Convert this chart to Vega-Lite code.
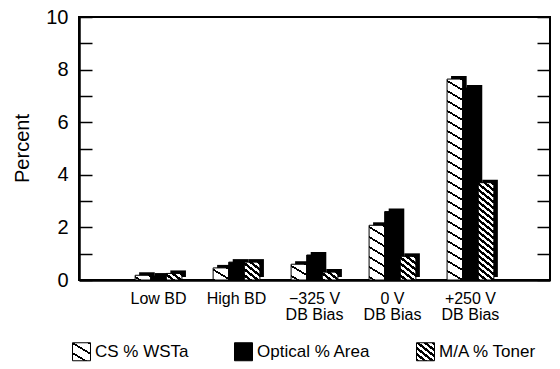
{
  "$schema": "https://vega.github.io/schema/vega-lite/v6.json",
  "width": 471,
  "height": 263,
  "autosize": "none",
  "padding": {"left": 79, "top": 17, "right": 10, "bottom": 89},
  "background": "white",
  "config": {
    "font": "Liberation Sans",
    "view": {"stroke": "black", "strokeWidth": 2},
    "axis": {"labelColor": "black", "titleColor": "black", "domainColor": "black", "tickColor": "black", "grid": false}
  },
  "params": [
    {"name": "csStops", "value": [
      {"offset": 0, "color": "#000"}, {"offset": 0.00909, "color": "#000"}, {"offset": 0.00909, "color": "#fff"}, {"offset": 0.04545, "color": "#fff"},
      {"offset": 0.04545, "color": "#000"}, {"offset": 0.05455, "color": "#000"}, {"offset": 0.05455, "color": "#fff"}, {"offset": 0.09091, "color": "#fff"},
      {"offset": 0.09091, "color": "#000"}, {"offset": 0.1, "color": "#000"}, {"offset": 0.1, "color": "#fff"}, {"offset": 0.13636, "color": "#fff"},
      {"offset": 0.13636, "color": "#000"}, {"offset": 0.14545, "color": "#000"}, {"offset": 0.14545, "color": "#fff"}, {"offset": 0.18182, "color": "#fff"},
      {"offset": 0.18182, "color": "#000"}, {"offset": 0.19091, "color": "#000"}, {"offset": 0.19091, "color": "#fff"}, {"offset": 0.22727, "color": "#fff"},
      {"offset": 0.22727, "color": "#000"}, {"offset": 0.23636, "color": "#000"}, {"offset": 0.23636, "color": "#fff"}, {"offset": 0.27273, "color": "#fff"},
      {"offset": 0.27273, "color": "#000"}, {"offset": 0.28182, "color": "#000"}, {"offset": 0.28182, "color": "#fff"}, {"offset": 0.31818, "color": "#fff"},
      {"offset": 0.31818, "color": "#000"}, {"offset": 0.32727, "color": "#000"}, {"offset": 0.32727, "color": "#fff"}, {"offset": 0.36364, "color": "#fff"},
      {"offset": 0.36364, "color": "#000"}, {"offset": 0.37273, "color": "#000"}, {"offset": 0.37273, "color": "#fff"}, {"offset": 0.40909, "color": "#fff"},
      {"offset": 0.40909, "color": "#000"}, {"offset": 0.41818, "color": "#000"}, {"offset": 0.41818, "color": "#fff"}, {"offset": 0.45455, "color": "#fff"},
      {"offset": 0.45455, "color": "#000"}, {"offset": 0.46364, "color": "#000"}, {"offset": 0.46364, "color": "#fff"}, {"offset": 0.5, "color": "#fff"},
      {"offset": 0.5, "color": "#000"}, {"offset": 0.50909, "color": "#000"}, {"offset": 0.50909, "color": "#fff"}, {"offset": 0.54545, "color": "#fff"},
      {"offset": 0.54545, "color": "#000"}, {"offset": 0.55455, "color": "#000"}, {"offset": 0.55455, "color": "#fff"}, {"offset": 0.59091, "color": "#fff"},
      {"offset": 0.59091, "color": "#000"}, {"offset": 0.6, "color": "#000"}, {"offset": 0.6, "color": "#fff"}, {"offset": 0.63636, "color": "#fff"},
      {"offset": 0.63636, "color": "#000"}, {"offset": 0.64545, "color": "#000"}, {"offset": 0.64545, "color": "#fff"}, {"offset": 0.68182, "color": "#fff"},
      {"offset": 0.68182, "color": "#000"}, {"offset": 0.69091, "color": "#000"}, {"offset": 0.69091, "color": "#fff"}, {"offset": 0.72727, "color": "#fff"},
      {"offset": 0.72727, "color": "#000"}, {"offset": 0.73636, "color": "#000"}, {"offset": 0.73636, "color": "#fff"}, {"offset": 0.77273, "color": "#fff"},
      {"offset": 0.77273, "color": "#000"}, {"offset": 0.78182, "color": "#000"}, {"offset": 0.78182, "color": "#fff"}, {"offset": 0.81818, "color": "#fff"},
      {"offset": 0.81818, "color": "#000"}, {"offset": 0.82727, "color": "#000"}, {"offset": 0.82727, "color": "#fff"}, {"offset": 0.86364, "color": "#fff"},
      {"offset": 0.86364, "color": "#000"}, {"offset": 0.87273, "color": "#000"}, {"offset": 0.87273, "color": "#fff"}, {"offset": 0.90909, "color": "#fff"},
      {"offset": 0.90909, "color": "#000"}, {"offset": 0.91818, "color": "#000"}, {"offset": 0.91818, "color": "#fff"}, {"offset": 0.95455, "color": "#fff"},
      {"offset": 0.95455, "color": "#000"}, {"offset": 0.96364, "color": "#000"}, {"offset": 0.96364, "color": "#fff"}, {"offset": 1, "color": "#fff"}
    ]},
    {"name": "maStops", "value": [
      {"offset": 0, "color": "#000"}, {"offset": 0.02632, "color": "#000"}, {"offset": 0.02632, "color": "#fff"}, {"offset": 0.05263, "color": "#fff"},
      {"offset": 0.05263, "color": "#000"}, {"offset": 0.07895, "color": "#000"}, {"offset": 0.07895, "color": "#fff"}, {"offset": 0.10526, "color": "#fff"},
      {"offset": 0.10526, "color": "#000"}, {"offset": 0.13158, "color": "#000"}, {"offset": 0.13158, "color": "#fff"}, {"offset": 0.15789, "color": "#fff"},
      {"offset": 0.15789, "color": "#000"}, {"offset": 0.18421, "color": "#000"}, {"offset": 0.18421, "color": "#fff"}, {"offset": 0.21053, "color": "#fff"},
      {"offset": 0.21053, "color": "#000"}, {"offset": 0.23684, "color": "#000"}, {"offset": 0.23684, "color": "#fff"}, {"offset": 0.26316, "color": "#fff"},
      {"offset": 0.26316, "color": "#000"}, {"offset": 0.28947, "color": "#000"}, {"offset": 0.28947, "color": "#fff"}, {"offset": 0.31579, "color": "#fff"},
      {"offset": 0.31579, "color": "#000"}, {"offset": 0.34211, "color": "#000"}, {"offset": 0.34211, "color": "#fff"}, {"offset": 0.36842, "color": "#fff"},
      {"offset": 0.36842, "color": "#000"}, {"offset": 0.39474, "color": "#000"}, {"offset": 0.39474, "color": "#fff"}, {"offset": 0.42105, "color": "#fff"},
      {"offset": 0.42105, "color": "#000"}, {"offset": 0.44737, "color": "#000"}, {"offset": 0.44737, "color": "#fff"}, {"offset": 0.47368, "color": "#fff"},
      {"offset": 0.47368, "color": "#000"}, {"offset": 0.5, "color": "#000"}, {"offset": 0.5, "color": "#fff"}, {"offset": 0.52632, "color": "#fff"},
      {"offset": 0.52632, "color": "#000"}, {"offset": 0.55263, "color": "#000"}, {"offset": 0.55263, "color": "#fff"}, {"offset": 0.57895, "color": "#fff"},
      {"offset": 0.57895, "color": "#000"}, {"offset": 0.60526, "color": "#000"}, {"offset": 0.60526, "color": "#fff"}, {"offset": 0.63158, "color": "#fff"},
      {"offset": 0.63158, "color": "#000"}, {"offset": 0.65789, "color": "#000"}, {"offset": 0.65789, "color": "#fff"}, {"offset": 0.68421, "color": "#fff"},
      {"offset": 0.68421, "color": "#000"}, {"offset": 0.71053, "color": "#000"}, {"offset": 0.71053, "color": "#fff"}, {"offset": 0.73684, "color": "#fff"},
      {"offset": 0.73684, "color": "#000"}, {"offset": 0.76316, "color": "#000"}, {"offset": 0.76316, "color": "#fff"}, {"offset": 0.78947, "color": "#fff"},
      {"offset": 0.78947, "color": "#000"}, {"offset": 0.81579, "color": "#000"}, {"offset": 0.81579, "color": "#fff"}, {"offset": 0.84211, "color": "#fff"},
      {"offset": 0.84211, "color": "#000"}, {"offset": 0.86842, "color": "#000"}, {"offset": 0.86842, "color": "#fff"}, {"offset": 0.89474, "color": "#fff"},
      {"offset": 0.89474, "color": "#000"}, {"offset": 0.92105, "color": "#000"}, {"offset": 0.92105, "color": "#fff"}, {"offset": 0.94737, "color": "#fff"},
      {"offset": 0.94737, "color": "#000"}, {"offset": 0.97368, "color": "#000"}, {"offset": 0.97368, "color": "#fff"}, {"offset": 1, "color": "#fff"}
    ]}
  ],
  "data": {
    "values": [
      {"group": "Low BD", "series": "CS % WSTa", "value": 0.18},
      {"group": "Low BD", "series": "Optical % Area", "value": 0.15},
      {"group": "Low BD", "series": "M/A % Toner", "value": 0.25},
      {"group": "High BD", "series": "CS % WSTa", "value": 0.46},
      {"group": "High BD", "series": "Optical % Area", "value": 0.68},
      {"group": "High BD", "series": "M/A % Toner", "value": 0.68},
      {"group": "−325 V DB Bias", "series": "CS % WSTa", "value": 0.6},
      {"group": "−325 V DB Bias", "series": "Optical % Area", "value": 0.95},
      {"group": "−325 V DB Bias", "series": "M/A % Toner", "value": 0.3},
      {"group": "0 V DB Bias", "series": "CS % WSTa", "value": 2.08},
      {"group": "0 V DB Bias", "series": "Optical % Area", "value": 2.6},
      {"group": "0 V DB Bias", "series": "M/A % Toner", "value": 0.9},
      {"group": "+250 V DB Bias", "series": "CS % WSTa", "value": 7.64},
      {"group": "+250 V DB Bias", "series": "Optical % Area", "value": 7.3},
      {"group": "+250 V DB Bias", "series": "M/A % Toner", "value": 3.7}
    ]
  },
  "encoding": {
    "x": {
      "field": "group",
      "type": "nominal",
      "sort": ["Low BD", "High BD", "−325 V DB Bias", "0 V DB Bias", "+250 V DB Bias"],
      "scale": {"paddingInner": 0.4, "paddingOuter": 0.72},
      "title": null,
      "axis": {
        "orient": "bottom",
        "ticks": false,
        "domainWidth": 2.5,
        "labelAngle": 0,
        "labelFontSize": 16,
        "labelPadding": 10,
        "labelLineHeight": 16,
        "labelOverlap": false,
        "labelExpr": "indexof(datum.label, ' DB Bias') > 0 ? [replace(datum.label, ' DB Bias', ''), 'DB Bias'] : datum.label"
      }
    }
  },
  "layer": [
    {
      "mark": {"type": "bar", "fill": "black", "yOffset": -3},
      "encoding": {
        "xOffset": {
          "field": "series",
          "sort": ["CS % WSTa", "Optical % Area", "M/A % Toner"],
          "scale": {"range": [4, 50.8]}
        },
        "y": {
          "field": "value",
          "type": "quantitative",
          "scale": {"domain": [0, 10], "nice": false},
          "axis": {"orient": "right", "title": null, "labels": false, "domain": false, "values": [0, 1, 2, 3, 4, 5, 6, 7, 8, 9, 10], "tickSize": -13, "tickWidth": 1.5}
        }
      }
    },
    {
      "mark": {
        "type": "bar",
        "stroke": "black",
        "strokeWidth": 1,
        "fill": {"expr": "datum.series === 'Optical % Area' ? 'black' : datum.series === 'CS % WSTa' ? {gradient: 'linear', x1: 1, y1: 0, x2: 1 - 2059.2 / (87.61 + pow(26.3 * datum.value, 2)), y2: 220 * 26.3 * datum.value / (87.61 + pow(26.3 * datum.value, 2)), stops: csStops} : {gradient: 'linear', x1: 1, y1: 0, x2: 1 - 1422.7 / (155.75 + pow(26.3 * datum.value, 2)), y2: 114 * 26.3 * datum.value / (155.75 + pow(26.3 * datum.value, 2)), stops: maStops}"}
      },
      "encoding": {
        "xOffset": {"field": "series", "sort": ["CS % WSTa", "Optical % Area", "M/A % Toner"]},
        "y": {
          "field": "value",
          "type": "quantitative",
          "scale": {"domain": [0, 10], "nice": false},
          "title": "Percent",
          "axis": {
            "orient": "left",
            "values": [0, 1, 2, 3, 4, 5, 6, 7, 8, 9, 10],
            "labelExpr": "datum.value % 2 === 0 ? datum.label : ''",
            "tickSize": -13,
            "tickWidth": 1.5,
            "domainWidth": 2.5,
            "labelFontSize": 20,
            "labelPadding": 24,
            "titleFontSize": 20,
            "titleFontWeight": "normal",
            "titleX": -57,
            "titleY": 131,
            "titleBaseline": "middle",
            "titleAngle": -90
          }
        }
      }
    },
    {
      "mark": {"type": "bar", "strokeWidth": 0},
      "encoding": {
        "xOffset": {"field": "series", "sort": ["CS % WSTa", "Optical % Area", "M/A % Toner"]},
        "y": {"datum": 0, "type": "quantitative", "axis": null},
        "fill": {
          "field": "series",
          "type": "nominal",
          "sort": ["CS % WSTa", "Optical % Area", "M/A % Toner"],
          "scale": {"range": [
            {"expr": "{gradient: 'linear', x1: 1, y1: 0, x2: -4.39, y2: 8.99, stops: csStops}"},
            "black",
            {"expr": "{gradient: 'linear', x1: 1, y1: 0, x2: -2.09, y2: 3.86, stops: maStops}"}
          ]},
          "legend": {
            "orient": "none",
            "direction": "horizontal",
            "legendX": -7,
            "legendY": 325,
            "title": null,
            "padding": 0,
            "symbolType": "square",
            "symbolSize": 324,
            "symbolStrokeWidth": 1,
            "symbolStrokeColor": "black",
            "symbolOpacity": 1,
            "labelFontSize": 17,
            "labelColor": "black",
            "labelOffset": 4,
            "columnPadding": 43
          }
        }
      }
    }
  ],
  "resolve": {"scale": {"xOffset": "independent"}, "axis": {"y": "independent"}}
}
